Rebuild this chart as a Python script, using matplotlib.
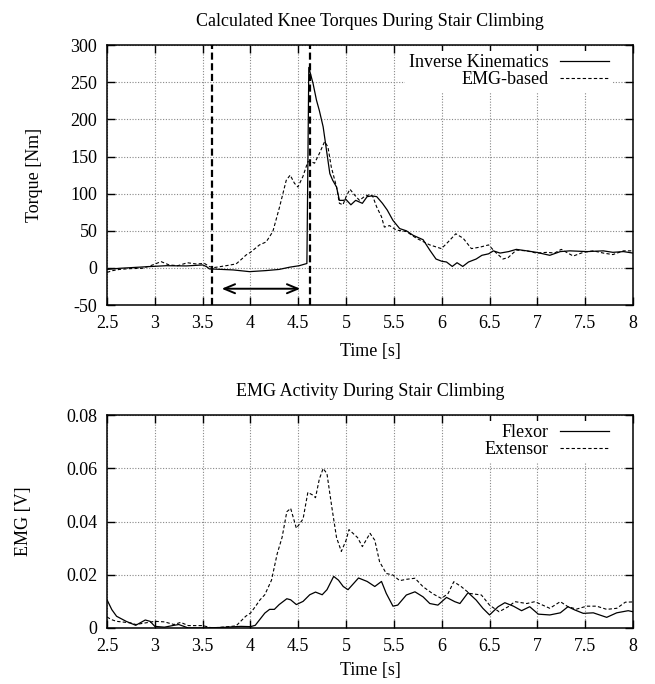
import numpy as np
import matplotlib
matplotlib.use('Agg')
import matplotlib.pyplot as plt
from matplotlib.ticker import FixedLocator, FuncFormatter

plt.rcParams['font.family'] = ['Liberation Serif', 'DejaVu Serif']
plt.rcParams['font.size'] = 13

# top panel: knee torque [Nm]
t_ik = [2.5, 2.63, 2.94, 3.12, 3.33, 3.5, 3.54, 3.57, 3.7, 3.82, 3.99, 4.16, 4.3, 4.41,
        4.51, 4.59, 4.61, 4.655, 4.69, 4.72, 4.76, 4.79, 4.83, 4.86, 4.9, 4.93, 4.97, 5.0,
        5.05, 5.1, 5.17, 5.22, 5.27, 5.32, 5.38, 5.43, 5.49, 5.56, 5.63, 5.7, 5.805, 5.875,
        5.94, 6.0, 6.05, 6.11, 6.16, 6.22, 6.28, 6.36, 6.42, 6.49, 6.54, 6.61, 6.7, 6.78,
        6.89, 6.99, 7.13, 7.24, 7.34, 7.52, 7.69, 7.79, 7.9, 8.0]
ik = [-2, -0.5, 1.8, 3, 2.7, 4, 1.8, -1.3, -2, -2.7, -5, -3.6, -2, 1,
      3, 6, 270, 248, 226, 212, 190, 163, 127, 118, 109, 91, 91, 92,
      85, 91, 87, 96, 97, 96, 87, 78, 64, 53, 50, 44, 38, 24,
      12, 9, 8, 2, 7, 2, 8, 12, 17, 19, 23, 20, 22, 25,
      23, 21, 17, 22, 23, 22, 23, 21, 22, 20]

t_emgb = [2.5, 2.56, 2.63, 2.73, 2.87, 2.977, 3.065, 3.15, 3.24, 3.34, 3.43, 3.52, 3.57,
          3.62, 3.745, 3.85, 3.9, 3.955, 4.0, 4.094, 4.164, 4.234, 4.304, 4.374, 4.415,
          4.46, 4.496, 4.548, 4.6, 4.636, 4.67, 4.72, 4.775, 4.81, 4.845, 4.9, 4.93, 4.967,
          5.0, 5.04, 5.09, 5.14, 5.19, 5.25, 5.28, 5.32, 5.37, 5.40, 5.455, 5.525, 5.63,
          5.735, 5.875, 5.997, 6.067, 6.147, 6.224, 6.31, 6.4, 6.49, 6.555, 6.64, 6.695,
          6.78, 6.89, 6.99, 7.1, 7.18, 7.25, 7.375, 7.48, 7.585, 7.69, 7.79, 7.9, 8.0]
emgb = [-6, -3.6, -2, -1, -0.5, 4, 8.5, 4, 3, 7, 5.4, 6, 1.8,
        0.5, 3, 5.4, 11, 17.5, 21, 31, 35, 49, 82, 118, 125,
        114, 109, 123, 143, 143, 141, 154, 170, 163, 136, 109, 87, 85,
        96, 106, 98, 91, 96, 99, 96, 82, 69, 55, 57, 51, 49,
        40, 31, 26, 35, 46, 40, 26, 28, 31, 22, 12, 14,
        24, 23, 20, 21, 20, 25, 16, 21, 23, 20, 18, 23, 23]

# bottom panel: EMG [V]
t_flex = [2.5, 2.55, 2.6, 2.7, 2.8, 2.85, 2.9, 2.95, 3.0, 3.1, 3.2, 3.25, 3.35, 3.5, 3.7,
          3.9, 4.0, 4.05, 4.15, 4.2, 4.25, 4.3, 4.38, 4.42, 4.48, 4.55, 4.62, 4.68, 4.75,
          4.8, 4.87, 4.92, 4.97, 5.02, 5.13, 5.22, 5.3, 5.37, 5.42, 5.49, 5.54, 5.63, 5.72,
          5.805, 5.875, 5.96, 6.05, 6.136, 6.19, 6.276, 6.36, 6.43, 6.5, 6.59, 6.66, 6.75,
          6.835, 6.92, 7.01, 7.13, 7.24, 7.32, 7.39, 7.48, 7.585, 7.725, 7.83, 7.95, 8.0]
flex = [0.0106, 0.0069, 0.0044, 0.0025, 0.001, 0.002, 0.003, 0.0025, 0.0006, 0.0003, 0.001,
        0.0013, 0.0, 0.0, 0.0002, 0.0006, 0.0005, 0.001, 0.0056, 0.007, 0.007, 0.0088, 0.011,
        0.0106, 0.0088, 0.01, 0.0125, 0.0135, 0.0125, 0.0144, 0.0194, 0.018, 0.0156, 0.0144,
        0.0188, 0.0175, 0.0156, 0.0175, 0.013, 0.0082, 0.0086, 0.0124, 0.0136, 0.0117, 0.0092,
        0.0086, 0.0115, 0.0099, 0.0092, 0.0133, 0.0105, 0.0074, 0.0049, 0.008, 0.0095, 0.0082,
        0.0065, 0.008, 0.0052, 0.0049, 0.0057, 0.008, 0.0068, 0.0055, 0.0057, 0.004, 0.0057,
        0.0065, 0.0061]

t_ext = [2.5, 2.55, 2.6, 2.75, 2.8, 2.9, 3.0, 3.1, 3.2, 3.27, 3.35, 3.5, 3.6, 3.7, 3.8,
         3.85, 3.95, 4.0, 4.05, 4.1, 4.15, 4.22, 4.28, 4.33, 4.38, 4.42, 4.48, 4.55, 4.6,
         4.65, 4.68, 4.72, 4.76, 4.8, 4.85, 4.9, 4.95, 5.0, 5.03, 5.12, 5.17, 5.25, 5.3,
         5.35, 5.42, 5.49, 5.56, 5.63, 5.72, 5.805, 5.91, 5.997, 6.067, 6.126, 6.206, 6.29,
         6.415, 6.5, 6.6, 6.695, 6.765, 6.89, 6.974, 7.13, 7.24, 7.32, 7.41, 7.515, 7.62,
         7.725, 7.83, 7.92, 8.0]
ext = [0.0041, 0.0031, 0.0025, 0.0019, 0.0013, 0.0019, 0.0025, 0.0023, 0.0013, 0.0021,
       0.0009, 0.0009, 0.0, 0.0003, 0.0006, 0.0008, 0.0044, 0.0056, 0.008, 0.0106, 0.0125,
       0.018, 0.028, 0.034, 0.0437, 0.045, 0.0375, 0.041, 0.051, 0.05, 0.049, 0.056, 0.060,
       0.058, 0.0456, 0.034, 0.0288, 0.033, 0.037, 0.034, 0.0306, 0.0356, 0.033, 0.0249,
       0.0205, 0.0199, 0.0178, 0.0183, 0.0187, 0.0155, 0.0128, 0.0111, 0.013, 0.0174,
       0.0155, 0.013, 0.0124, 0.0086, 0.0061, 0.008, 0.0099, 0.0092, 0.0099, 0.0074,
       0.0099, 0.008, 0.0071, 0.0082, 0.0082, 0.007, 0.0074, 0.0097, 0.0098]

x_ticks = [2.5, 3, 3.5, 4, 4.5, 5, 5.5, 6, 6.5, 7, 7.5, 8]
torque_ticks = [-50, 0, 50, 100, 150, 200, 250, 300]
emg_ticks = [0, 0.02, 0.04, 0.06, 0.08]
markers_t = [3.6, 4.62]
arrow_t = [3.67, 4.55]
arrow_y = -28


def fmt(v, pos):
    return '%g' % v


def style(ax, yt):
    ax.set_xlim(2.5, 8)
    ax.xaxis.set_major_locator(FixedLocator(x_ticks))
    ax.yaxis.set_major_locator(FixedLocator(yt))
    ax.xaxis.set_major_formatter(FuncFormatter(fmt))
    ax.yaxis.set_major_formatter(FuncFormatter(fmt))
    ax.tick_params(direction='in', top=True, right=True, length=6, width=1,
                   labelsize=13)
    ax.tick_params(axis='y', pad=7)
    ax.tick_params(axis='x', pad=7)
    ax.grid(True, color='#888888', linestyle=(0, (1, 1.5)), linewidth=0.8)
    ax.set_axisbelow(True)
    for s in ax.spines.values():
        s.set_linewidth(1.1)


def key(ax):
    ax.legend(loc='upper right', bbox_to_anchor=(1 - 15 / 526, 1), markerfirst=False,
              frameon=True, fancybox=False, facecolor='white', edgecolor='none',
              framealpha=1, fontsize=13, handlelength=2.7, handletextpad=0.65,
              labelspacing=0.0, borderaxespad=0.3, borderpad=0.2)


fig = plt.figure(figsize=(6.55, 6.84), dpi=100)

ax1 = fig.add_axes([0.1634, 0.554, 0.803, 0.380])
ax1.plot(t_ik, ik, color='black', lw=0.9, label='Inverse Kinematics')
ax1.plot(t_emgb, emgb, color='black', lw=0.8, dashes=(3, 2), label='EMG-based')
for m in markers_t:
    ax1.axvline(m, color='black', lw=1.6, dashes=(3.2, 1.6))
ax1.annotate('', xy=(arrow_t[1], arrow_y), xytext=(arrow_t[0], arrow_y),
             arrowprops=dict(arrowstyle='<->,head_length=0.6,head_width=0.25',
                             color='black', lw=1.4))
ax1.set_ylim(-50, 300)
style(ax1, torque_ticks)
ax1.set_title('Calculated Knee Torques During Stair Climbing', fontsize=13, pad=14)
ax1.set_xlabel('Time [s]', fontsize=13, labelpad=8)
ax1.set_ylabel('Torque [Nm]', fontsize=13)
ax1.yaxis.set_label_coords(-0.122, 0.5)
key(ax1)

ax2 = fig.add_axes([0.1634, 0.0819, 0.803, 0.311])
ax2.plot(t_flex, flex, color='black', lw=0.9, label='Flexor')
ax2.plot(t_ext, ext, color='black', lw=0.8, dashes=(3, 2), label='Extensor')
ax2.set_ylim(0, 0.08)
style(ax2, emg_ticks)
ax2.set_title('EMG Activity During Stair Climbing', fontsize=13, pad=14)
ax2.set_xlabel('Time [s]', fontsize=13, labelpad=5)
ax2.set_ylabel('EMG [V]', fontsize=13)
ax2.yaxis.set_label_coords(-0.143, 0.5)
key(ax2)

fig.savefig('out.png', dpi=100)
